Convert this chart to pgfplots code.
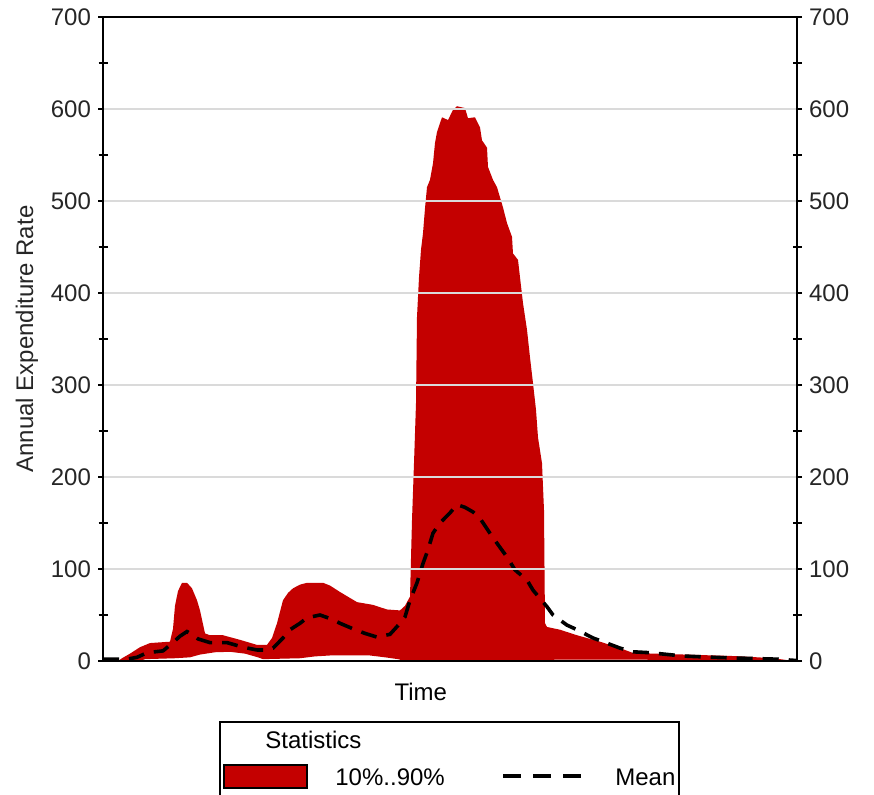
\documentclass[border=0pt]{standalone}
\usepackage{fontspec}
\setmainfont{Liberation Sans}
\usepackage{pgfplots}
\pgfplotsset{compat=1.18}
\usepgfplotslibrary{fillbetween}
\definecolor{bandred}{HTML}{C40000}
\definecolor{gridgray}{HTML}{DADADA}

\pgfplotstableread{
x U
103 0
118 0
122 3
130 8
140 15
150 19.5
170 21
173 35
175 60
178 76
182 85
187 85
192 79
197 66
200 55
202 45
205 30
210 28
223 28
240 23
257 17.5
267 17.5
272 25
277 41
283 66
288 74
293 79
300 83
307 85
323 85
330 82
340 75
357 64
373 61
387 56
400 55
405 60
410 70
412 153
414 215
416 280
417 374
419 417
421 447
423 465
425 492
427 515
430 523
433 541
435 563
437 575
442 591
448 588
453 599
457 603
465 601
468 590
475 591
480 580
482 566
487 558
488 537
493 523
497 515
500 504
503 493
507 476
512 461
513 443
518 436
520 417
523 389
527 360
530 330
533 302
536 273
538 243
542 215
544 164
545 41
547 37
560 34
577 28
600 21
620 14
633 8.7
667 7.6
700 6.5
733 5.4
753 4.3
773 3
787 1
797 0
}\upperdata

\pgfplotstableread{
x L
103 0
140 0
145 2
175 3
190 4
200 7
215 9.5
230 10
245 8
258 4
263 2
300 3
315 5
330 6
370 6
385 4
398 2
405 0
545 0
555 1.5
647 1.5
655 0
797 0
}\lowerdata

\pgfplotstableread{
x M
103 2
127 2
137 4
147 9
163 11
173 20
180 27
187 32
192 29
198 24
210 20
227 20
243 15
257 12
265 12
273 14
283 25
290 34
300 41
307 47
320 50
333 45
340 41
353 35
365 30
377 26
390 29
400 41
405 48
410 66
417 85
423 106
428 121
433 139
440 150
450 161
457 170
465 167
473 162
480 155
493 134
507 113
515 99
527 88
533 77
547 59
553 50
567 39
577 34
593 25
603 21
620 14
633 10
650 9
683 5.4
713 4
743 3
777 2
790 1
797 0.5
}\meandata

\pgfplotsset{
  common/.style={
    at={(0,0)}, anchor=south west,
    width=347pt, height=322pt, scale only axis,
    xmin=103, xmax=797, ymin=0, ymax=700,
    xtick=\empty,
    ytick={0,100,...,700},
    minor ytick={50,150,...,650},
    tick align=outside,
    major tick length=2.5pt, minor tick length=4.5pt,
    tick style={black, line width=0.7pt},
    axis line style={black, line width=0.9pt},
    ticklabel style={font=\fontsize{12}{14}\selectfont, text=black!85},
    /pgf/number format/assume math mode=true,
  }
}

\begin{document}
\begin{tikzpicture}
\begin{axis}[common,
  ytick pos=left,
  minor tick style={xshift=2.25pt},
  ymajorgrids,
  grid style={draw=gridgray, line width=0.6pt},
  axis on top,
  ylabel={Annual Expenditure Rate},
  ylabel style={at={(axis description cs:-0.1095,0.5)}, anchor=center, font=\fontsize{12}{14}\selectfont, text=black!85},
  xlabel={Time},
  xlabel style={at={(axis description cs:0.458,-0.048)}, anchor=center, font=\fontsize{12}{14}\selectfont},
]
\addplot[name path=U, draw=none] table[x=x, y=U] {\upperdata};
\addplot[name path=L, draw=none] table[x=x, y=L] {\lowerdata};
\addplot[fill=bandred, draw=none] fill between[of=U and L];
\addplot[black, line width=1.8pt, dash pattern=on 8pt off 5pt] table[x=x, y=M] {\meandata};
\end{axis}
\begin{axis}[common,
  hide x axis,
  ytick pos=right, yticklabel pos=right,
  minor tick style={xshift=-2.25pt},
]
\end{axis}
% legend
\draw[black, line width=0.8pt] (58.5pt,-80pt) rectangle (288pt,-30.5pt);
\node[anchor=west, inner sep=0pt, font=\fontsize{12}{14}\selectfont] at (81pt,-39.5pt) {Statistics};
\draw[fill=bandred, draw=black, line width=0.6pt] (60.5pt,-52pt) rectangle (102pt,-63.5pt);
\node[anchor=west, inner sep=0pt, font=\fontsize{12}{14}\selectfont] at (116pt,-58pt) {10\%..90\%};
\draw[black, line width=1.8pt, dash pattern=on 9pt off 6pt] (200pt,-57.5pt) -- (240pt,-57.5pt);
\node[anchor=west, inner sep=0pt, font=\fontsize{12}{14}\selectfont] at (256pt,-58pt) {Mean};
\pgfresetboundingbox
\useasboundingbox (-51.5pt,-66.5pt) rectangle (385.5pt,330.5pt);
\end{tikzpicture}
\end{document}
